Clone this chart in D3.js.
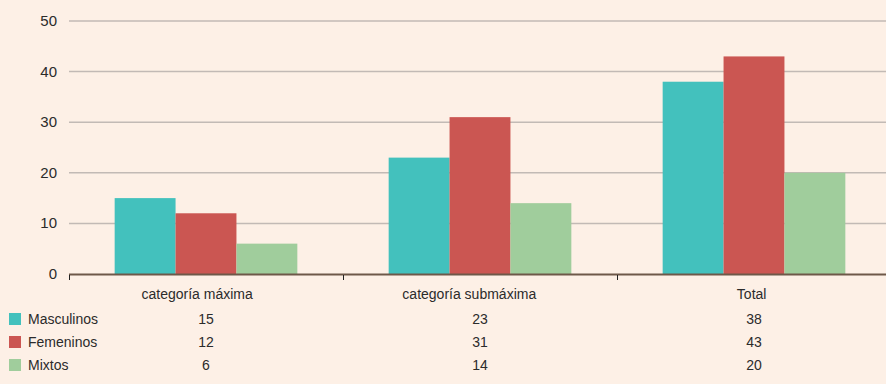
<!DOCTYPE html>
<html>
<head>
<meta charset="utf-8">
<script src="https://cdn.jsdelivr.net/npm/d3@7"></script>
<style>
	body{margin:0;background:#fdf0e6;}
	svg{display:block;font-family:"Liberation Sans",Arial,sans-serif;}
</style>
</head>
<body>
<script>
const categories = ["categoría máxima","categoría submáxima","Total"];
const seriesNames = ["Masculinos","Femeninos","Mixtos"];
const masculinos = [15,23,38];
const femeninos = [12,31,43];
const mixtos = [6,14,20];
const yTicks = [0,10,20,30,40,50];
const colors = ["#43c1bd","#cb5652","#a0cd9c"];

const values = [masculinos,femeninos,mixtos];

const width = 886, height = 384;
const svg = d3.select("body").append("svg")
	.attr("width",width)
	.attr("height",height);

//scales
const x0 = d3.scaleBand().domain(categories).range([69,891]);
const x1 = d3.scaleBand().domain(seriesNames)
	.range([0,x0.bandwidth()]).paddingInner(0).paddingOuter(0.75);
const y = d3.scaleLinear().domain([0,50]).range([274,21]);

//gridlines
svg.append("g").selectAll("line")
	.data(yTicks.filter(d=>d>0))
	.enter().append("line")
		.attr("x1",69).attr("x2",width)
		.attr("y1",d=>y(d)).attr("y2",d=>y(d))
		.attr("stroke","#c2bab5")
		.attr("stroke-width",1.5);

//y labels
svg.append("g").selectAll("text")
	.data(yTicks)
	.enter().append("text")
		.attr("x",57)
		.attr("y",d=>y(d)+5)
		.attr("text-anchor","end")
		.attr("font-size",15)
		.attr("fill","#2b2b2b")
		.text(d=>d);

//bars
seriesNames.forEach(function(s,si){
	svg.append("g").selectAll("rect")
		.data(categories)
		.enter().append("rect")
			.attr("x",c=>x0(c)+x1(s))
			.attr("width",x1.bandwidth())
			.attr("y",(c,i)=>y(values[si][i]))
			.attr("height",(c,i)=>y(0)-y(values[si][i]))
			.attr("fill",colors[si]);
});

//x axis line + ticks
svg.append("line")
	.attr("x1",69).attr("x2",width)
	.attr("y1",y(0)+0.5).attr("y2",y(0)+0.5)
	.attr("stroke","#6e5849")
	.attr("stroke-width",2);
svg.append("g").selectAll("line")
	.data(categories)
	.enter().append("line")
		.attr("x1",c=>x0(c)+0.5).attr("x2",c=>x0(c)+0.5)
		.attr("y1",y(0)+1).attr("y2",y(0)+6)
		.attr("stroke","#222")
		.attr("stroke-width",1);

//category labels (sit a little left of centre, as in the original)
svg.append("g").selectAll("text")
	.data(categories)
	.enter().append("text")
		.attr("x",c=>x0(c)+x0.bandwidth()/2)
		.attr("y",299)
		.attr("text-anchor","middle")
		.attr("font-size",14)
		.attr("fill","#2b2b2b")
		.text(c=>c)
		.attr("dx",function(){return -0.08*this.getComputedTextLength();});

//data table with legend
const rowY = [319,342,365];
seriesNames.forEach(function(s,si){
	svg.append("rect")
		.attr("x",9).attr("y",rowY[si]-6)
		.attr("width",12).attr("height",12)
		.attr("fill",colors[si]);
	svg.append("text")
		.attr("x",28).attr("y",rowY[si]+5)
		.attr("font-size",14)
		.attr("fill","#2b2b2b")
		.text(s);
	svg.append("g").selectAll("text")
		.data(categories)
		.enter().append("text")
			.attr("x",c=>x0(c)+x0.bandwidth()/2)
			.attr("y",rowY[si]+5)
			.attr("text-anchor","middle")
			.attr("font-size",14)
			.attr("fill","#2b2b2b")
			.text((c,i)=>values[si][i]);
});
</script>
</body>
</html>
